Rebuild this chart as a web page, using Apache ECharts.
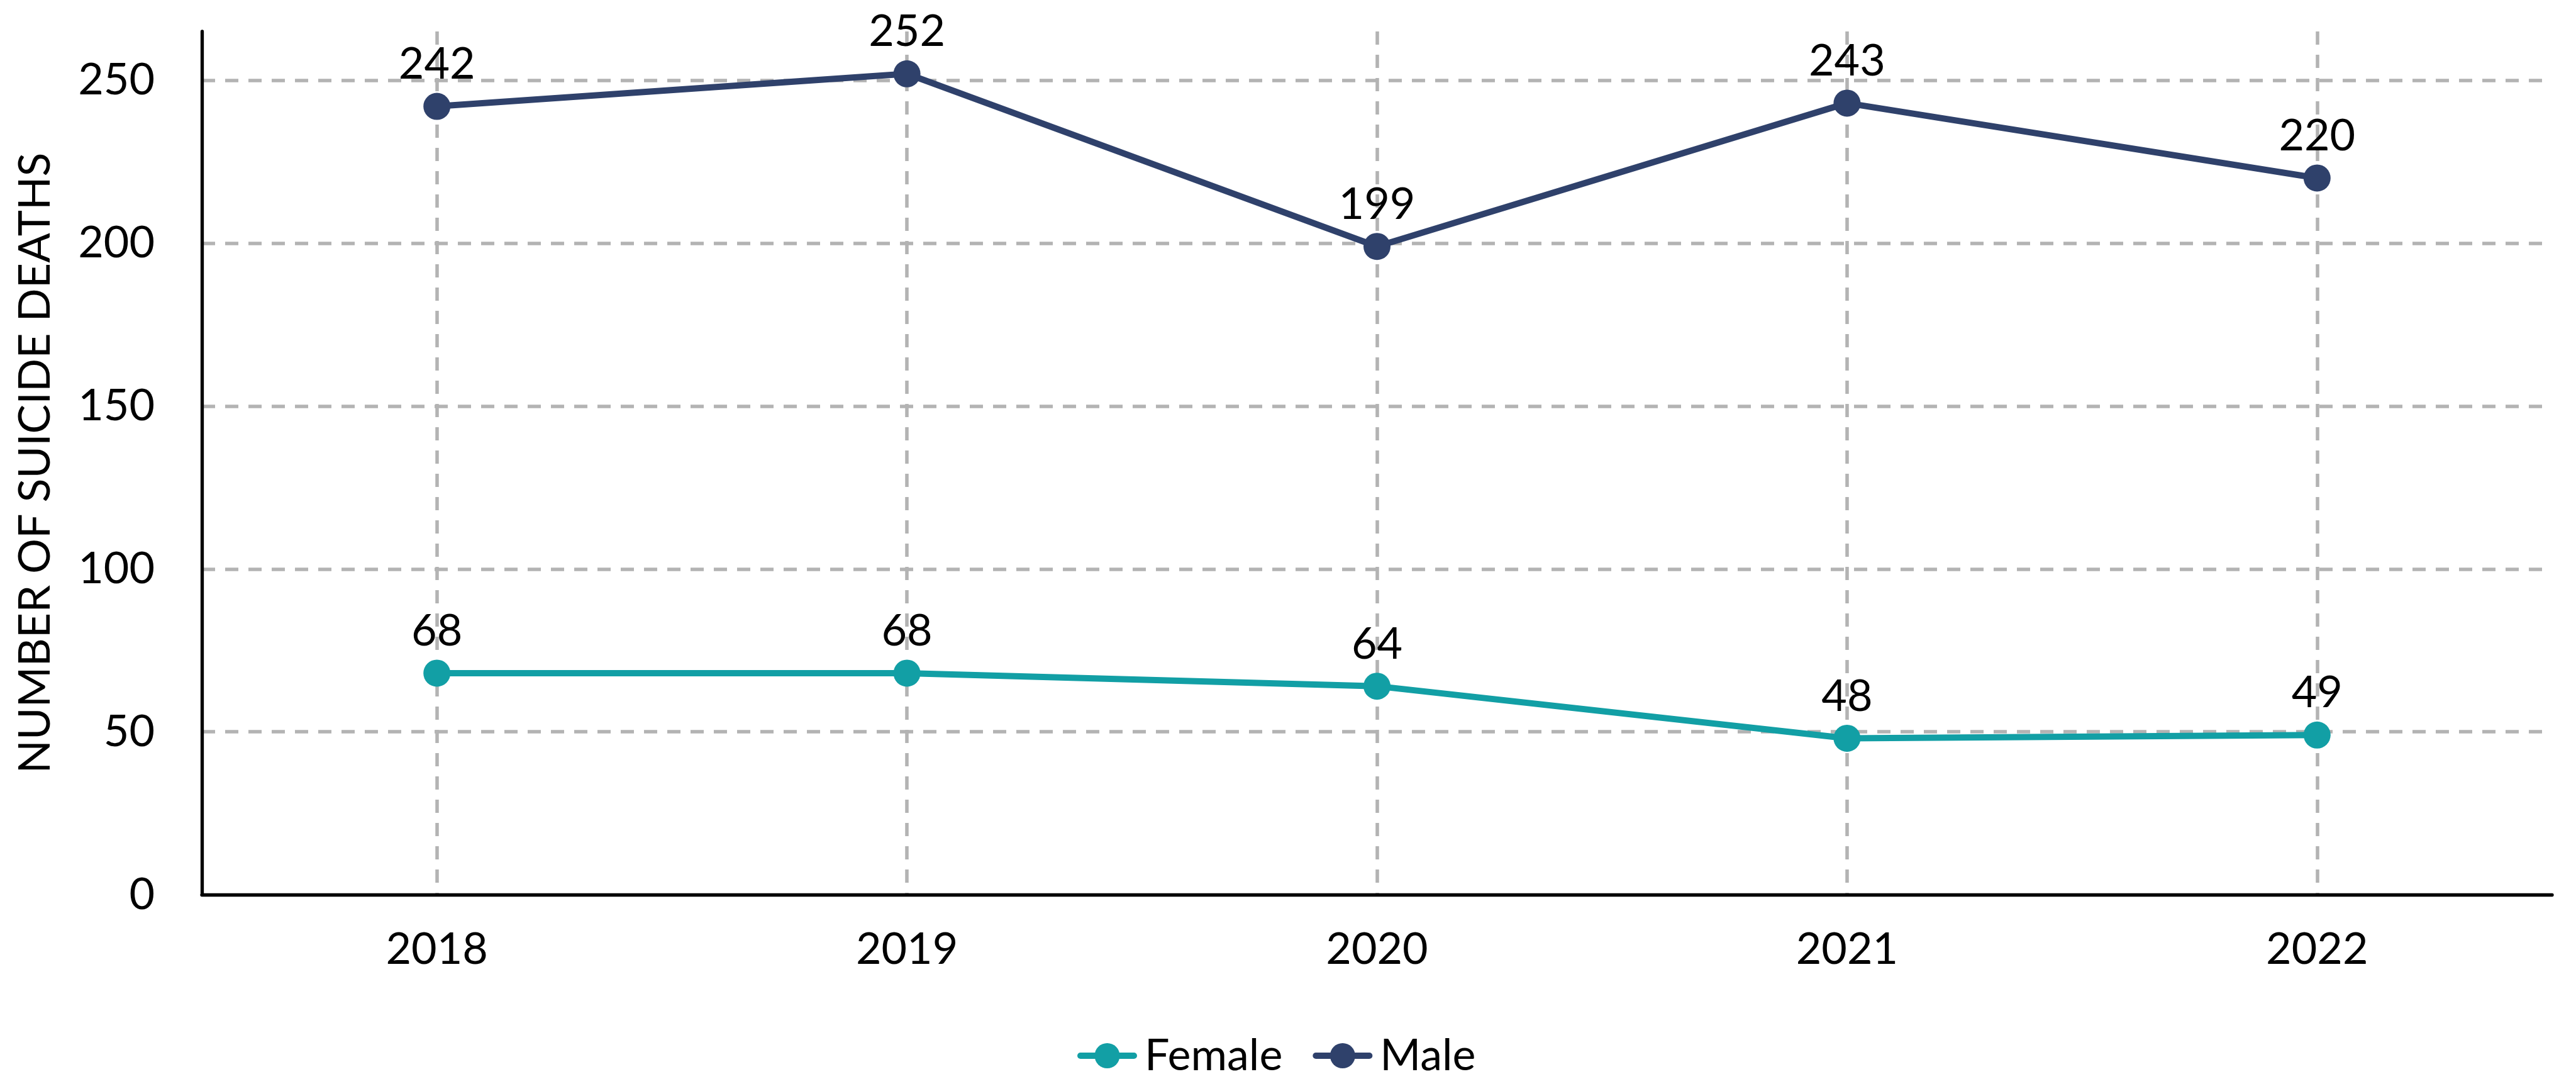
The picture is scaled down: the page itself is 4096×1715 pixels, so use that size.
<!DOCTYPE html>
<html>
<head>
<meta charset="utf-8">
<title>Suicide deaths by sex</title>
<script src="https://cdn.jsdelivr.net/npm/echarts@6/dist/echarts.min.js"></script>
<style>
	html, body { margin: 0; padding: 0; background: #fff; }
	#deathsChart { width: 4096px; height: 1715px; }
</style>
</head>
<body>
<div id="deathsChart"></div>
<script>
var years = ['2018', '2019', '2020', '2021', '2022'];
var femaleDeaths = [68, 68, 64, 48, 49];
var maleDeaths = [242, 252, 199, 243, 220];
var seriesNames = ['Female', 'Male'];

var FONT = 'Lato';

function lineSeries(name, values, color) {
	return {
		name: name,
		type: 'line',
		data: values,
		symbol: 'circle',
		symbolSize: 43,
		lineStyle: { color: color, width: 10 },
		itemStyle: { color: color },
		label: {
			show: true,
			position: 'top',
			distance: 10,
			color: '#000',
			fontFamily: FONT,
			fontSize: 70
		}
	};
}

function initDeathsChart() {
	var chart = echarts.init(document.getElementById('deathsChart'));
	var option = {
		animation: false,
		backgroundColor: '#fff',
		grid: {
			left: 321,
			right: 38,
			top: 50,
			bottom: 293,
			containLabel: false,
			outerBoundsMode: 'none'
		},
		legend: {
			data: seriesNames,
			left: 1708,
			top: 1638,
			itemWidth: 85,
			itemHeight: 50,
			itemGap: 48,
			lineStyle: { width: 10, cap: 'round' },
			textStyle: {
				color: '#000',
				fontFamily: FONT,
				fontSize: 70,
				padding: [0, 0, 0, 12]
			}
		},
		xAxis: {
			type: 'category',
			data: years,
			boundaryGap: true,
			axisLine: { lineStyle: { color: '#000', width: 5.3 } },
			axisTick: { show: false },
			axisLabel: {
				color: '#000',
				fontFamily: FONT,
				fontSize: 70,
				margin: 52
			},
			splitLine: {
				show: true,
				alignWithLabel: true,
				lineStyle: { color: '#b3b3b3', width: 5.5, type: [21, 16] }
			}
		},
		yAxis: {
			type: 'value',
			min: 0,
			max: 265,
			interval: 50,
			name: 'NUMBER OF SUICIDE DEATHS',
			nameLocation: 'middle',
			nameGap: 230,
			nameTextStyle: {
				color: '#000',
				fontFamily: FONT,
				fontSize: 70
			},
			axisLine: { show: true, lineStyle: { color: '#000', width: 5.3 } },
			axisTick: { show: false },
			axisLabel: {
				color: '#000',
				fontFamily: FONT,
				fontSize: 70,
				margin: 75,
				showMaxLabel: false
			},
			splitLine: {
				show: true,
				showMinLine: false,
				showMaxLine: false,
				lineStyle: { color: '#b3b3b3', width: 5.5, type: [21, 16] }
			}
		},
		series: [
			lineSeries(seriesNames[0], femaleDeaths, '#129fa5'),
			lineSeries(seriesNames[1], maleDeaths, '#2f416b')
		]
	};
	chart.setOption(option);
}

initDeathsChart();
</script>
</body>
</html>
